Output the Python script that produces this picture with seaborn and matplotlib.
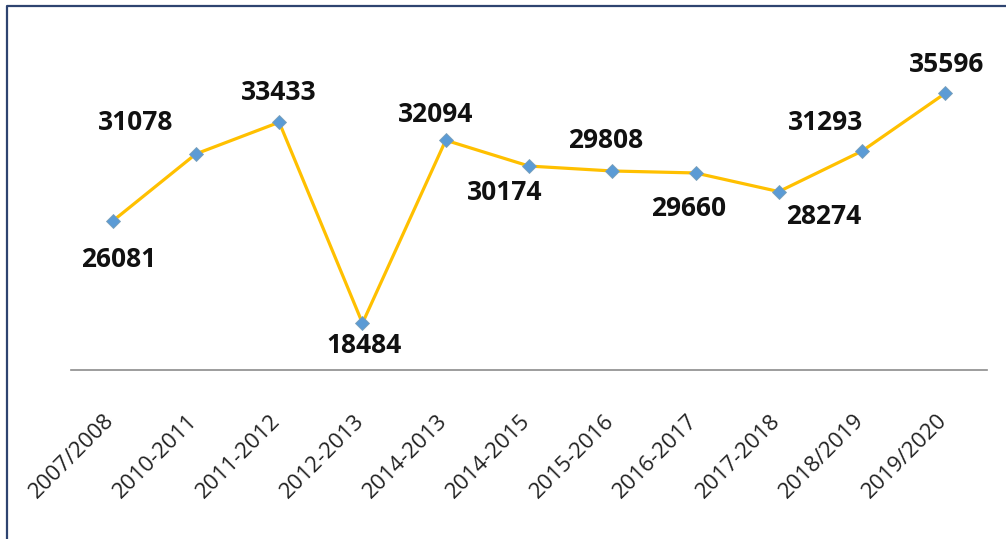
import matplotlib
matplotlib.use('Agg')
import matplotlib.pyplot as plt
import matplotlib.transforms as mtransforms
import seaborn as sns
import pandas as pd
from matplotlib.lines import Line2D

# 数据
periods = ['2007/2008', '2010-2011', '2011-2012', '2012-2013', '2014-2013', '2014-2015',
           '2015-2016', '2016-2017', '2017-2018', '2018/2019', '2019/2020']
counts = [26081, 31078, 33433, 18484, 32094, 30174, 29808, 29660, 28274, 31293, 35596]

# 标签偏移 (像素)
label_dx = [6, -60, 0, 2, -10, -24, -7, -7, 45, -37, 1]
label_dy = [-46, 24, 22, -30, 18, -34, 23, -43, -32, 21, 21]

df = pd.DataFrame({'period': periods, 'count': counts})

sns.set_style('white')
plt.rcParams['font.family'] = ['Open Sans', 'DejaVu Sans']

fig = plt.figure(figsize=(10.06, 5.39), dpi=100)
ax = fig.add_axes([71 / 1006, 1 - 370 / 539, (987 - 71) / 1006, (370 - 34) / 539])

sns.lineplot(data=df, x='period', y='count', sort=False, ax=ax,
             color='#FFC000', linewidth=2.3, marker='D', markersize=7,
             markerfacecolor='#5B9BD5', markeredgecolor='#7BA0B8', markeredgewidth=0.6)

for i, v in enumerate(counts):
    ax.annotate(str(v), (i, v), xytext=(label_dx[i], label_dy[i]), textcoords='offset pixels',
                ha='center', va='baseline', fontsize=19, fontweight='bold', color='#111111')

ax.set_xlim(-0.5, len(periods) - 0.5)
ax.set_ylim(15000, 40000)
ax.set_xlabel('')
ax.set_ylabel('')
ax.set_yticks([])
ax.set_xticks(range(len(periods)))
ax.set_xticklabels(periods, rotation=45, ha='right', rotation_mode='anchor',
                   fontsize=16, color='#222222')
ax.tick_params(axis='x', length=0, pad=29)
shift = mtransforms.ScaledTranslation(-9 / 100, 0, fig.dpi_scale_trans)
for lab in ax.get_xticklabels():
    lab.set_transform(lab.get_transform() + shift)

for s in ['top', 'right', 'left']:
    ax.spines[s].set_visible(False)
ax.spines['bottom'].set_color('#8C8C8C')
ax.spines['bottom'].set_linewidth(1.2)

# 外框
fig.add_artist(Line2D([7 / 1006, 7 / 1006, 1.0], [0.0, 1 - 6 / 539, 1 - 6 / 539],
                      transform=fig.transFigure, color='#2E4470', linewidth=1.6))

fig.savefig('out.png', dpi=100)
